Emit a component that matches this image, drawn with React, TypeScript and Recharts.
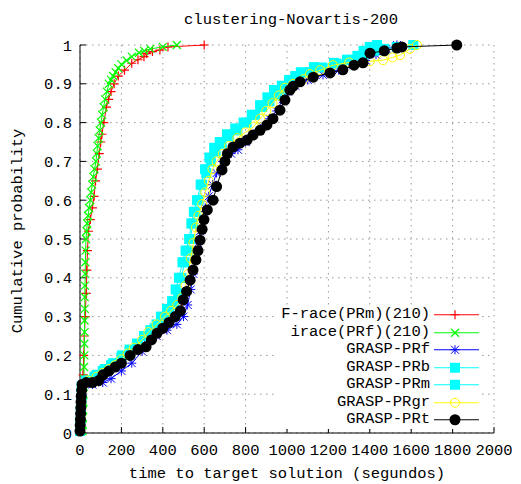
import React from "react";
import { ScatterChart, Scatter, XAxis, YAxis, CartesianGrid, Legend } from "recharts";

// axis ticks
const xTicks = [0, 200, 400, 600, 800, 1000, 1200, 1400, 1600, 1800, 2000];
const yTicks = [0, 0.1, 0.2, 0.3, 0.4, 0.5, 0.6, 0.7, 0.8, 0.9, 1];

// [time (s), cumulative probability]
const fraceRm: [number, number][] = [
  [0, 0.005], [4, 0.03], [8, 0.06], [12, 0.1], [15, 0.15], [18, 0.2], [21, 0.25], [25, 0.3],
  [30, 0.36], [33, 0.42], [36, 0.47], [41, 0.52], [50, 0.55], [60, 0.58], [68, 0.61], [75, 0.65],
  [84, 0.68], [93, 0.72], [100, 0.75], [106, 0.77], [115, 0.8], [128, 0.84], [138, 0.86],
  [150, 0.88], [165, 0.9], [185, 0.92], [215, 0.935], [250, 0.953], [280, 0.962], [309, 0.97],
  [322, 0.978], [350, 0.983], [386, 0.987], [425, 0.995], [600, 1.0],
];

const iraceRf: [number, number][] = [
  [12, 0.005], [13, 0.02], [14, 0.04], [15, 0.06], [16, 0.08], [17, 0.1], [18, 0.12], [19, 0.14],
  [20, 0.17], [21, 0.2], [21, 0.23], [22, 0.26], [22, 0.29], [23, 0.32], [23, 0.35], [24, 0.38],
  [25, 0.41], [26, 0.44], [27, 0.47], [29, 0.5], [32, 0.52], [35, 0.54], [39, 0.56], [44, 0.58],
  [50, 0.6], [54, 0.62], [59, 0.64], [64, 0.66], [70, 0.68], [77, 0.7], [81, 0.72], [85, 0.74],
  [90, 0.76], [95, 0.78], [101, 0.8], [107, 0.82], [114, 0.84], [121, 0.86], [130, 0.88],
  [140, 0.9], [150, 0.91], [160, 0.92], [172, 0.93], [185, 0.94], [200, 0.95], [225, 0.96],
  [250, 0.97], [285, 0.98], [310, 0.985], [340, 0.99], [400, 0.995], [468, 1.0],
];

const graspRf: [number, number][] = [
  [0, 0.005], [4, 0.05], [8, 0.1], [12, 0.125], [60, 0.125], [110, 0.13], [150, 0.14], [200, 0.16],
  [250, 0.18], [300, 0.21], [323, 0.23], [370, 0.25], [420, 0.265], [468, 0.28], [500, 0.3],
  [520, 0.33], [535, 0.37], [548, 0.41], [560, 0.45], [570, 0.49], [580, 0.52], [592, 0.55],
  [605, 0.58], [622, 0.61], [640, 0.64], [660, 0.67], [690, 0.7], [730, 0.72], [763, 0.73],
  [800, 0.75], [840, 0.77], [880, 0.79], [915, 0.81], [950, 0.83], [980, 0.86], [1005, 0.88],
  [1040, 0.895], [1100, 0.91], [1174, 0.923], [1250, 0.935], [1320, 0.948], [1380, 0.96],
  [1430, 0.975], [1480, 0.99], [1531, 1.0],
];

const graspRb: [number, number][] = [
  [0, 0.005], [2, 0.03], [4, 0.06], [6, 0.09], [8, 0.12], [30, 0.135], [70, 0.145], [110, 0.16],
  [150, 0.175], [203, 0.2], [240, 0.215], [275, 0.23], [309, 0.25], [340, 0.265], [370, 0.28],
  [391, 0.3], [420, 0.32], [445, 0.34], [462, 0.37], [478, 0.4], [495, 0.44], [510, 0.47],
  [527, 0.5], [538, 0.54], [550, 0.57], [565, 0.6], [583, 0.64], [604, 0.68], [625, 0.71],
  [648, 0.735], [675, 0.75], [710, 0.77], [750, 0.785], [790, 0.8], [830, 0.82], [870, 0.845],
  [905, 0.865], [937, 0.884], [975, 0.895], [1010, 0.91], [1040, 0.92], [1067, 0.93], [1130, 0.943],
  [1227, 0.954], [1290, 0.962], [1340, 0.972], [1370, 0.985], [1400, 0.995], [1435, 1.0],
];

const graspRm: [number, number][] = [
  [0, 0.005], [2, 0.03], [4, 0.06], [6, 0.09], [9, 0.12], [40, 0.135], [80, 0.15], [120, 0.165],
  [160, 0.18], [200, 0.195], [240, 0.21], [280, 0.23], [320, 0.25], [360, 0.27], [400, 0.29],
  [430, 0.305], [455, 0.33], [475, 0.36], [490, 0.4], [505, 0.44], [520, 0.47], [533, 0.5],
  [545, 0.54], [558, 0.57], [573, 0.6], [590, 0.64], [610, 0.67], [632, 0.7], [655, 0.725],
  [685, 0.745], [720, 0.765], [760, 0.78], [805, 0.8], [845, 0.82], [880, 0.84], [915, 0.855],
  [950, 0.87], [985, 0.885], [1015, 0.9], [1060, 0.915], [1110, 0.93], [1170, 0.942], [1240, 0.952],
  [1310, 0.962], [1370, 0.975], [1420, 0.985], [1470, 0.99], [1530, 0.995], [1610, 1.0],
];

const graspRgr: [number, number][] = [
  [0, 0.005], [3, 0.04], [6, 0.08], [9, 0.12], [40, 0.135], [80, 0.145], [110, 0.155], [140, 0.165],
  [170, 0.175], [200, 0.19], [230, 0.205], [260, 0.22], [300, 0.24], [330, 0.26], [370, 0.28],
  [410, 0.3], [440, 0.315], [470, 0.33], [495, 0.35], [510, 0.38], [522, 0.41], [535, 0.45],
  [548, 0.49], [560, 0.53], [572, 0.56], [590, 0.59], [605, 0.62], [622, 0.65], [640, 0.68],
  [660, 0.7], [690, 0.72], [720, 0.74], [760, 0.76], [800, 0.775], [840, 0.79], [870, 0.81],
  [900, 0.83], [930, 0.85], [960, 0.87], [990, 0.89], [1030, 0.9], [1080, 0.912], [1111, 0.925],
  [1160, 0.935], [1222, 0.948], [1300, 0.955], [1400, 0.958], [1464, 0.961], [1510, 0.968],
  [1546, 0.974], [1594, 0.99], [1628, 1.0],
];

const graspRt: [number, number][] = [
  [0, 0.005], [1, 0.02], [2, 0.035], [3, 0.05], [4, 0.065], [5, 0.08], [6, 0.095], [8, 0.11],
  [10, 0.125], [30, 0.13], [60, 0.13], [90, 0.135], [111, 0.15], [140, 0.16], [170, 0.17],
  [200, 0.18], [242, 0.2], [280, 0.215], [319, 0.222], [345, 0.24], [372, 0.257], [400, 0.27],
  [430, 0.285], [460, 0.3], [485, 0.315], [498, 0.343], [515, 0.365], [532, 0.394], [546, 0.42],
  [560, 0.446], [570, 0.47], [580, 0.497], [590, 0.525], [599, 0.55], [615, 0.575], [643, 0.6],
  [660, 0.635], [686, 0.678], [700, 0.7], [712, 0.72], [739, 0.737], [773, 0.747], [807, 0.755],
  [836, 0.768], [870, 0.78], [903, 0.794], [932, 0.81], [966, 0.832], [990, 0.858], [1014, 0.884],
  [1030, 0.894], [1063, 0.905], [1127, 0.917], [1208, 0.928], [1270, 0.936], [1324, 0.948],
  [1367, 0.954], [1401, 0.979], [1470, 0.985], [1531, 0.992], [1555, 0.995], [1820, 1.0],
];

const FONT = '"Liberation Mono", "DejaVu Sans Mono", monospace';
const FS = 15.5;

type Kind = "plus" | "cross" | "star" | "square" | "circle" | "dot";

const series: { name: string; data: [number, number][]; color: string; kind: Kind }[] = [
  { name: "F-race(PRm)(210)", data: fraceRm, color: "#ff0000", kind: "plus" },
  { name: "irace(PRf)(210)", data: iraceRf, color: "#00ff00", kind: "cross" },
  { name: "GRASP-PRf", data: graspRf, color: "#0000ff", kind: "star" },
  { name: "GRASP-PRb", data: graspRb, color: "#00ffff", kind: "square" },
  { name: "GRASP-PRm", data: graspRm, color: "#00ffff", kind: "square" },
  { name: "GRASP-PRgr", data: graspRgr, color: "#ffff00", kind: "circle" },
  { name: "GRASP-PRt", data: graspRt, color: "#000000", kind: "dot" },
];

function marker(kind: Kind, color: string, cx: number, cy: number) {
  const plus = `M${cx - 4.5},${cy}H${cx + 4.5}M${cx},${cy - 4.5}V${cy + 4.5}`;
  const cross = `M${cx - 4},${cy - 4}L${cx + 4},${cy + 4}M${cx - 4},${cy + 4}L${cx + 4},${cy - 4}`;
  switch (kind) {
    case "plus":
      return <path d={plus} stroke={color} strokeWidth={1.2} fill="none" />;
    case "cross":
      return <path d={cross} stroke={color} strokeWidth={1.2} fill="none" />;
    case "star":
      return <path d={plus + cross} stroke={color} fill="none" />;
    case "square":
      return <rect x={cx - 5} y={cy - 5} width={10} height={10} fill={color} />;
    case "circle":
      return <circle cx={cx} cy={cy} r={4.5} fill="none" stroke={color} />;
    default:
      return <circle cx={cx} cy={cy} r={5.5} fill={color} />;
  }
}

const KeyBox = () => (
  <div style={{ background: "#fff", fontFamily: FONT, fontSize: FS, color: "#000" }}>
    {series.map((s) => (
      <div
        key={s.name}
        style={{ display: "flex", justifyContent: "flex-end", alignItems: "center", height: 17.5 }}
      >
        <span style={{ whiteSpace: "pre", lineHeight: "17.5px", marginRight: 2 }}>{s.name}</span>
        <svg width={50} height={17.5} style={{ display: "block" }}>
          <line x1={2} x2={47} y1={8.75} y2={8.75} stroke={s.color} />
          {marker(s.kind, s.color, 23, 8.75)}
        </svg>
      </div>
    ))}
  </div>
);

const YTitle = (props: any) => {
  const vb = props.viewBox || { x: 0, y: 0, height: 0 };
  const cx = vb.x + 18;
  const cy = vb.y + vb.height / 2 - 8;
  return (
    <text
      x={cx}
      y={cy}
      transform={`rotate(-90 ${cx} ${cy})`}
      textAnchor="middle"
      dominantBaseline="central"
      fontFamily={FONT}
      fontSize={FS}
      fill="#000"
    >
      Cumulative probability
    </text>
  );
};

const tickStyle = { fontFamily: FONT, fontSize: FS, fill: "#000" };

export default function App() {
  return (
    <div style={{ position: "absolute", left: 0, top: 0, width: 521, height: 484, background: "#fff" }}>
      <div
        style={{
          position: "absolute",
          left: 291,
          top: 11,
          transform: "translateX(-50%)",
          fontFamily: FONT,
          fontSize: FS,
          lineHeight: "18px",
          whiteSpace: "pre",
          color: "#000",
        }}
      >
        clustering-Novartis-200
      </div>
      <ScatterChart width={521} height={484} margin={{ top: 45, right: 27, bottom: 0, left: 0 }}>
        <CartesianGrid stroke="#999" strokeDasharray="1.5 4.5" />
        <XAxis
          type="number"
          dataKey="x"
          domain={[0, 2000]}
          ticks={xTicks}
          height={51}
          stroke="#000"
          tickSize={-6}
          tickMargin={17}
          tick={tickStyle}
          label={{ value: "time to target solution (segundos)", position: "insideBottom", offset: 6, fontFamily: FONT, fontSize: FS, fill: "#000" }}
        />
        <XAxis
          xAxisId="top"
          orientation="top"
          type="number"
          domain={[0, 2000]}
          ticks={xTicks}
          height={0}
          stroke="#000"
          tickSize={-6}
          tick={false}
        />
        <YAxis
          type="number"
          dataKey="y"
          domain={[0, 1]}
          ticks={yTicks}
          width={80}
          stroke="#000"
          tickSize={-6}
          tickMargin={14}
          tick={tickStyle}
          label={<YTitle />}
        />
        <YAxis
          yAxisId="right"
          orientation="right"
          type="number"
          domain={[0, 1]}
          ticks={yTicks}
          width={0}
          stroke="#000"
          tickSize={-6}
          tick={false}
        />
        <Legend
          layout="vertical"
          align="center"
          verticalAlign="middle"
          content={<KeyBox />}
          wrapperStyle={{ left: 278, top: 306, width: 204, height: 123 }}
        />
        {series.map((s) => (
          <Scatter
            key={s.name}
            name={s.name}
            data={s.data.map(([x, y]) => ({ x, y }))}
            line={{ stroke: s.color, strokeWidth: 1 }}
            lineType="joint"
            isAnimationActive={false}
            shape={(p: any) => marker(s.kind, s.color, p.cx, p.cy)}
          />
        ))}
      </ScatterChart>
    </div>
  );
}
